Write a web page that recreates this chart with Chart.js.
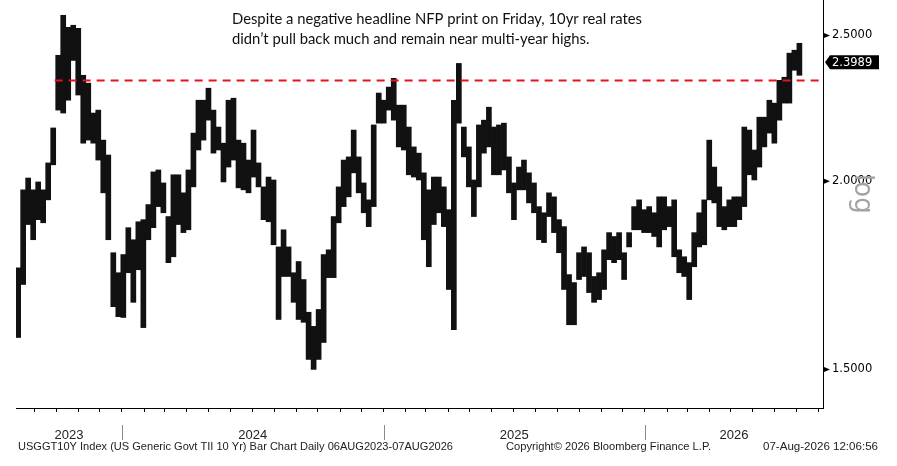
<!DOCTYPE html>
<html>
<head>
<meta charset="utf-8">
<script src="https://cdn.jsdelivr.net/npm/chart.js@4.4.0/dist/chart.umd.min.js"></script>
<style>
  html, body { margin: 0; padding: 0; background: #fff; }
  #wrap { width: 897px; height: 466px; position: relative; }
</style>
</head>
<body>
<div id="wrap"><canvas id="realRates"></canvas></div>
<script>
// weekly high / low of USGGT10Y (Monday of each week)
var weeks = [
  '2023-08-07','2023-08-14','2023-08-21','2023-08-28','2023-09-04','2023-09-11','2023-09-18','2023-09-25',
  '2023-10-02','2023-10-09','2023-10-16','2023-10-23','2023-10-30','2023-11-06','2023-11-13','2023-11-20',
  '2023-11-27','2023-12-04','2023-12-11','2023-12-18','2023-12-25',
  '2024-01-01','2024-01-08','2024-01-15','2024-01-22','2024-01-29','2024-02-05','2024-02-12','2024-02-19',
  '2024-02-26','2024-03-04','2024-03-11','2024-03-18','2024-03-25','2024-04-01','2024-04-08','2024-04-15',
  '2024-04-22','2024-04-29','2024-05-06','2024-05-13','2024-05-20','2024-05-27','2024-06-03','2024-06-10',
  '2024-06-17','2024-06-24','2024-07-01','2024-07-08','2024-07-15','2024-07-22','2024-07-29','2024-08-05',
  '2024-08-12','2024-08-19','2024-08-26','2024-09-02','2024-09-09','2024-09-16','2024-09-23','2024-09-30',
  '2024-10-07','2024-10-14','2024-10-21','2024-10-28','2024-11-04','2024-11-11','2024-11-18','2024-11-25',
  '2024-12-02','2024-12-09','2024-12-16','2024-12-23','2024-12-30',
  '2025-01-06','2025-01-13','2025-01-20','2025-01-27','2025-02-03','2025-02-10','2025-02-17','2025-02-24',
  '2025-03-03','2025-03-10','2025-03-17','2025-03-24','2025-03-31','2025-04-07','2025-04-14','2025-04-21',
  '2025-04-28','2025-05-05','2025-05-12','2025-05-19','2025-05-26','2025-06-02','2025-06-09','2025-06-16',
  '2025-06-23','2025-06-30','2025-07-07','2025-07-14','2025-07-21','2025-07-28','2025-08-04','2025-08-11',
  '2025-08-18','2025-08-25','2025-09-01','2025-09-08','2025-09-15','2025-09-22','2025-09-29','2025-10-06',
  '2025-10-13','2025-10-20','2025-10-27','2025-11-03','2025-11-10','2025-11-17','2025-11-24','2025-12-01',
  '2025-12-08','2025-12-15','2025-12-22','2025-12-29',
  '2026-01-05','2026-01-12','2026-01-19','2026-01-26','2026-02-02','2026-02-09','2026-02-16','2026-02-23',
  '2026-03-02','2026-03-09','2026-03-16','2026-03-23','2026-03-30','2026-04-06','2026-04-13','2026-04-20',
  '2026-04-27','2026-05-04','2026-05-11','2026-05-18','2026-05-25','2026-06-01','2026-06-08','2026-06-15',
  '2026-06-22','2026-06-29','2026-07-06','2026-07-13','2026-07-20','2026-07-27','2026-08-03'
];
var weekHigh = [
  1.752,1.974,2.010,1.974,1.998,1.974,2.057,2.170,2.425,2.578,2.531,2.539,2.527,2.352,2.324,2.220,
  2.230,2.130,2.082,1.793,1.739,
  1.788,1.863,1.829,1.880,1.886,1.930,2.029,2.035,1.995,1.895,2.020,2.020,1.965,2.035,2.153,2.264,
  2.264,2.306,2.230,2.173,2.120,2.264,2.271,2.130,2.120,2.066,2.163,2.057,1.983,2.013,2.004,1.809,
  1.857,1.809,1.739,1.769,1.721,1.637,1.602,1.644,1.788,1.801,1.895,1.983,2.066,2.076,2.163,2.076,
  1.995,1.944,2.180,2.289,2.264,
  2.310,2.341,2.247,2.247,2.173,2.108,2.088,2.026,1.974,2.013,2.013,1.983,1.915,2.264,2.395,2.173,
  2.108,2.004,2.180,2.196,2.240,2.173,2.180,2.186,2.076,1.995,2.044,2.066,2.026,1.995,1.924,1.906,
  1.965,1.953,1.886,1.866,1.734,1.713,1.793,1.809,1.793,1.729,1.739,1.801,1.849,1.838,1.849,1.793,
  1.849,1.924,1.944,1.915,
  1.924,1.906,1.953,1.953,1.924,1.944,1.801,1.782,1.766,1.849,1.906,1.944,2.130,2.044,1.983,1.924,
  1.944,1.953,1.953,2.173,2.163,2.098,2.206,2.206,2.264,2.254,2.334,2.345,2.433,2.444,2.470
];
var weekLow = [
  1.575,1.708,1.872,1.829,1.886,1.877,1.944,2.051,2.230,2.220,2.264,2.406,2.282,2.120,2.130,2.120,
  2.066,1.965,1.829,1.651,1.626,
  1.624,1.739,1.662,1.747,1.599,1.829,1.863,1.924,1.906,1.766,1.782,1.872,1.849,1.857,1.983,2.098,
  2.130,2.196,2.088,2.098,1.998,2.044,2.066,1.980,1.974,1.965,2.013,1.983,1.886,1.880,1.815,1.619,
  1.729,1.729,1.662,1.619,1.612,1.523,1.500,1.523,1.563,1.726,1.726,1.877,1.924,1.953,2.026,1.965,
  1.906,1.866,1.924,2.186,2.186,
  2.230,2.196,2.108,2.098,2.020,2.013,2.004,1.829,1.755,1.872,1.906,1.866,1.695,1.594,2.186,2.076,
  1.983,1.895,1.983,2.088,2.108,2.020,2.020,2.035,1.965,1.886,1.974,1.974,1.935,1.906,1.829,1.821,
  1.895,1.849,1.793,1.695,1.606,1.606,1.721,1.729,1.687,1.662,1.669,1.695,1.774,1.766,1.774,1.721,
  1.809,1.857,1.857,1.849,
  1.849,1.838,1.809,1.857,1.866,1.782,1.739,1.729,1.669,1.755,1.809,1.815,1.944,1.935,1.866,1.857,
  1.866,1.866,1.886,1.924,2.020,2.004,2.044,2.108,2.153,2.120,2.196,2.254,2.254,2.370,2.352
];
var lastPrice = 2.3989;
var resistLevel = 2.333;
var resistFrom = '2023-09-29';
var yearLabels = ['2023', '2024', '2025', '2026'];
var yTicks = [1.5, 2.0, 2.5];
var startDate = '2023-08-06';
var endDate = '2026-09-07';

function dayOf(s) {
  return (Date.parse(s + 'T00:00:00Z') - Date.parse(startDate + 'T00:00:00Z')) / 86400000;
}

// month ticks along the bottom axis
var monthTicks = [];
for (var i = 0; i <= 36; i++) {
  var yy = 2023 + Math.floor((8 + i) / 12), mm = (8 + i) % 12 + 1;
  monthTicks.push(dayOf(yy + '-' + (mm < 10 ? '0' : '') + mm + '-01'));
}

var bars = weeks.map(function (w, i) {
  return { x: dayOf(w) + 2, y: [weekLow[i], weekHigh[i]] };
});

function fitText(c, text, x, y, width) {
  var w = c.measureText(text).width;
  c.save();
  c.translate(x, y);
  c.scale(width / w, 1);
  c.fillText(text, 0, 0);
  c.restore();
}

var decor = {
  id: 'decor',
  afterDraw: function (chart) {
    var c = chart.ctx, xs = chart.scales.x, ys = chart.scales.y, a = chart.chartArea;
    c.save();

    // axis markers
    c.fillStyle = '#000';
    yTicks.forEach(function (v) {
      var py = ys.getPixelForValue(v);
      c.beginPath();
      c.moveTo(a.right + 1, py - 2.5);
      c.lineTo(a.right + 7, py);
      c.lineTo(a.right + 1, py + 2.5);
      c.closePath();
      c.fill();
    });

    // last price tag
    var py = ys.getPixelForValue(lastPrice);
    c.beginPath();
    c.moveTo(a.right + 2, py);
    c.lineTo(a.right + 7, py - 7);
    c.lineTo(a.right + 56, py - 7);
    c.lineTo(a.right + 56, py + 7);
    c.lineTo(a.right + 7, py + 7);
    c.closePath();
    c.fill();
    c.fillStyle = '#fff';
    c.font = '11.5px "DejaVu Sans"';
    c.textBaseline = 'middle';
    c.textAlign = 'left';
    c.fillText(lastPrice.toFixed(4), a.right + 9, py + 0.5);

    // log tag
    c.save();
    c.fillStyle = '#a3a3a3';
    c.font = '26px "DejaVu Sans"';
    c.textBaseline = 'alphabetic';
    c.translate(855, 174);
    c.rotate(Math.PI / 2);
    c.fillText('log', 0, 0);
    c.restore();

    // years and separators
    c.fillStyle = '#222';
    c.font = '13px "Liberation Sans"';
    c.textAlign = 'center';
    c.textBaseline = 'alphabetic';
    yearLabels.forEach(function (yr, k) {
      var s = Math.max(xs.min, dayOf(yr + '-01-01'));
      var e = Math.min(xs.max, dayOf((+yr + 1) + '-01-01'));
      var p0 = xs.getPixelForValue(s), p1 = xs.getPixelForValue(e);
      c.fillText(yr, (p0 + p1) / 2, 439);
      if (k > 0) {
        c.strokeStyle = '#8a8a8a';
        c.lineWidth = 1;
        c.beginPath();
        c.moveTo(Math.round(p0) + 0.5, 425);
        c.lineTo(Math.round(p0) + 0.5, 440);
        c.stroke();
      }
    });

    // footer
    c.textAlign = 'left';
    c.fillStyle = '#222';
    c.font = '11px "Liberation Sans"';
    fitText(c, 'USGGT10Y Index (US Generic Govt TII 10 Yr) Bar Chart Daily 06AUG2023-07AUG2026', 18, 450, 435);
    fitText(c, 'Copyright\u00a9 2026 Bloomberg Finance L.P.', 506, 450, 205);
    fitText(c, '07-Aug-2026 12:06:56', 763, 450, 115);

    // comment
    c.fillStyle = '#111';
    c.font = '15px Lato';
    var l1 = 'Despite a negative headline NFP print on Friday, 10yr real rates';
    var l2 = 'didn\u2019t pull back much and remain near multi-year highs.';
    var sx = 410 / c.measureText(l1).width;
    c.save();
    c.translate(232, 23.5);
    c.scale(sx, 1);
    c.fillText(l1, 0, 0);
    c.fillText(l2, 0, 20.5);
    c.restore();

    c.restore();
  }
};

var ctx = document.getElementById('realRates').getContext('2d');
var myChart = new Chart(ctx, {
  type: 'bar',
  data: {
    datasets: [{
      type: 'line',
      data: [{ x: dayOf(resistFrom), y: resistLevel }, { x: dayOf(endDate), y: resistLevel }],
      borderColor: '#e3141b',
      borderWidth: 2,
      borderDash: [8, 6],
      pointRadius: 0,
      order: 0
    }, {
      data: bars,
      backgroundColor: '#111',
      borderWidth: 0,
      barPercentage: 1,
      categoryPercentage: 1,
      order: 1
    }]
  },
  options: {
    responsive: true,
    maintainAspectRatio: false,
    animation: false,
    layout: { padding: { left: 16, right: 0, top: 0, bottom: 0 } },
    plugins: { legend: { display: false }, tooltip: { enabled: false } },
    scales: {
      x: {
        type: 'linear',
        min: 0,
        max: dayOf(endDate),
        offset: false,
        afterBuildTicks: function (s) { s.ticks = monthTicks.map(function (v) { return { value: v }; }); },
        afterFit: function (s) { s.height = 58; s.paddingLeft = 0; s.paddingRight = 0; },
        grid: { offset: false, drawOnChartArea: false, drawTicks: true, tickLength: 4, color: '#000' },
        border: { display: true, color: '#000', width: 1 },
        ticks: { display: false }
      },
      y: {
        type: 'logarithmic',
        position: 'right',
        min: 1.414,
        max: 2.639,
        afterBuildTicks: function (s) { s.ticks = yTicks.map(function (v) { return { value: v }; }); },
        afterFit: function (s) { s.width = 74; s.paddingTop = 0; s.paddingBottom = 0; },
        grid: { display: false, drawTicks: false },
        border: { display: true, color: '#000', width: 1 },
        ticks: {
          padding: 9,
          color: '#000',
          font: { family: 'DejaVu Sans', size: 11.5 },
          callback: function (v) { return Number(v).toFixed(4); }
        }
      }
    }
  },
  plugins: [decor]
});
</script>
</body>
</html>
